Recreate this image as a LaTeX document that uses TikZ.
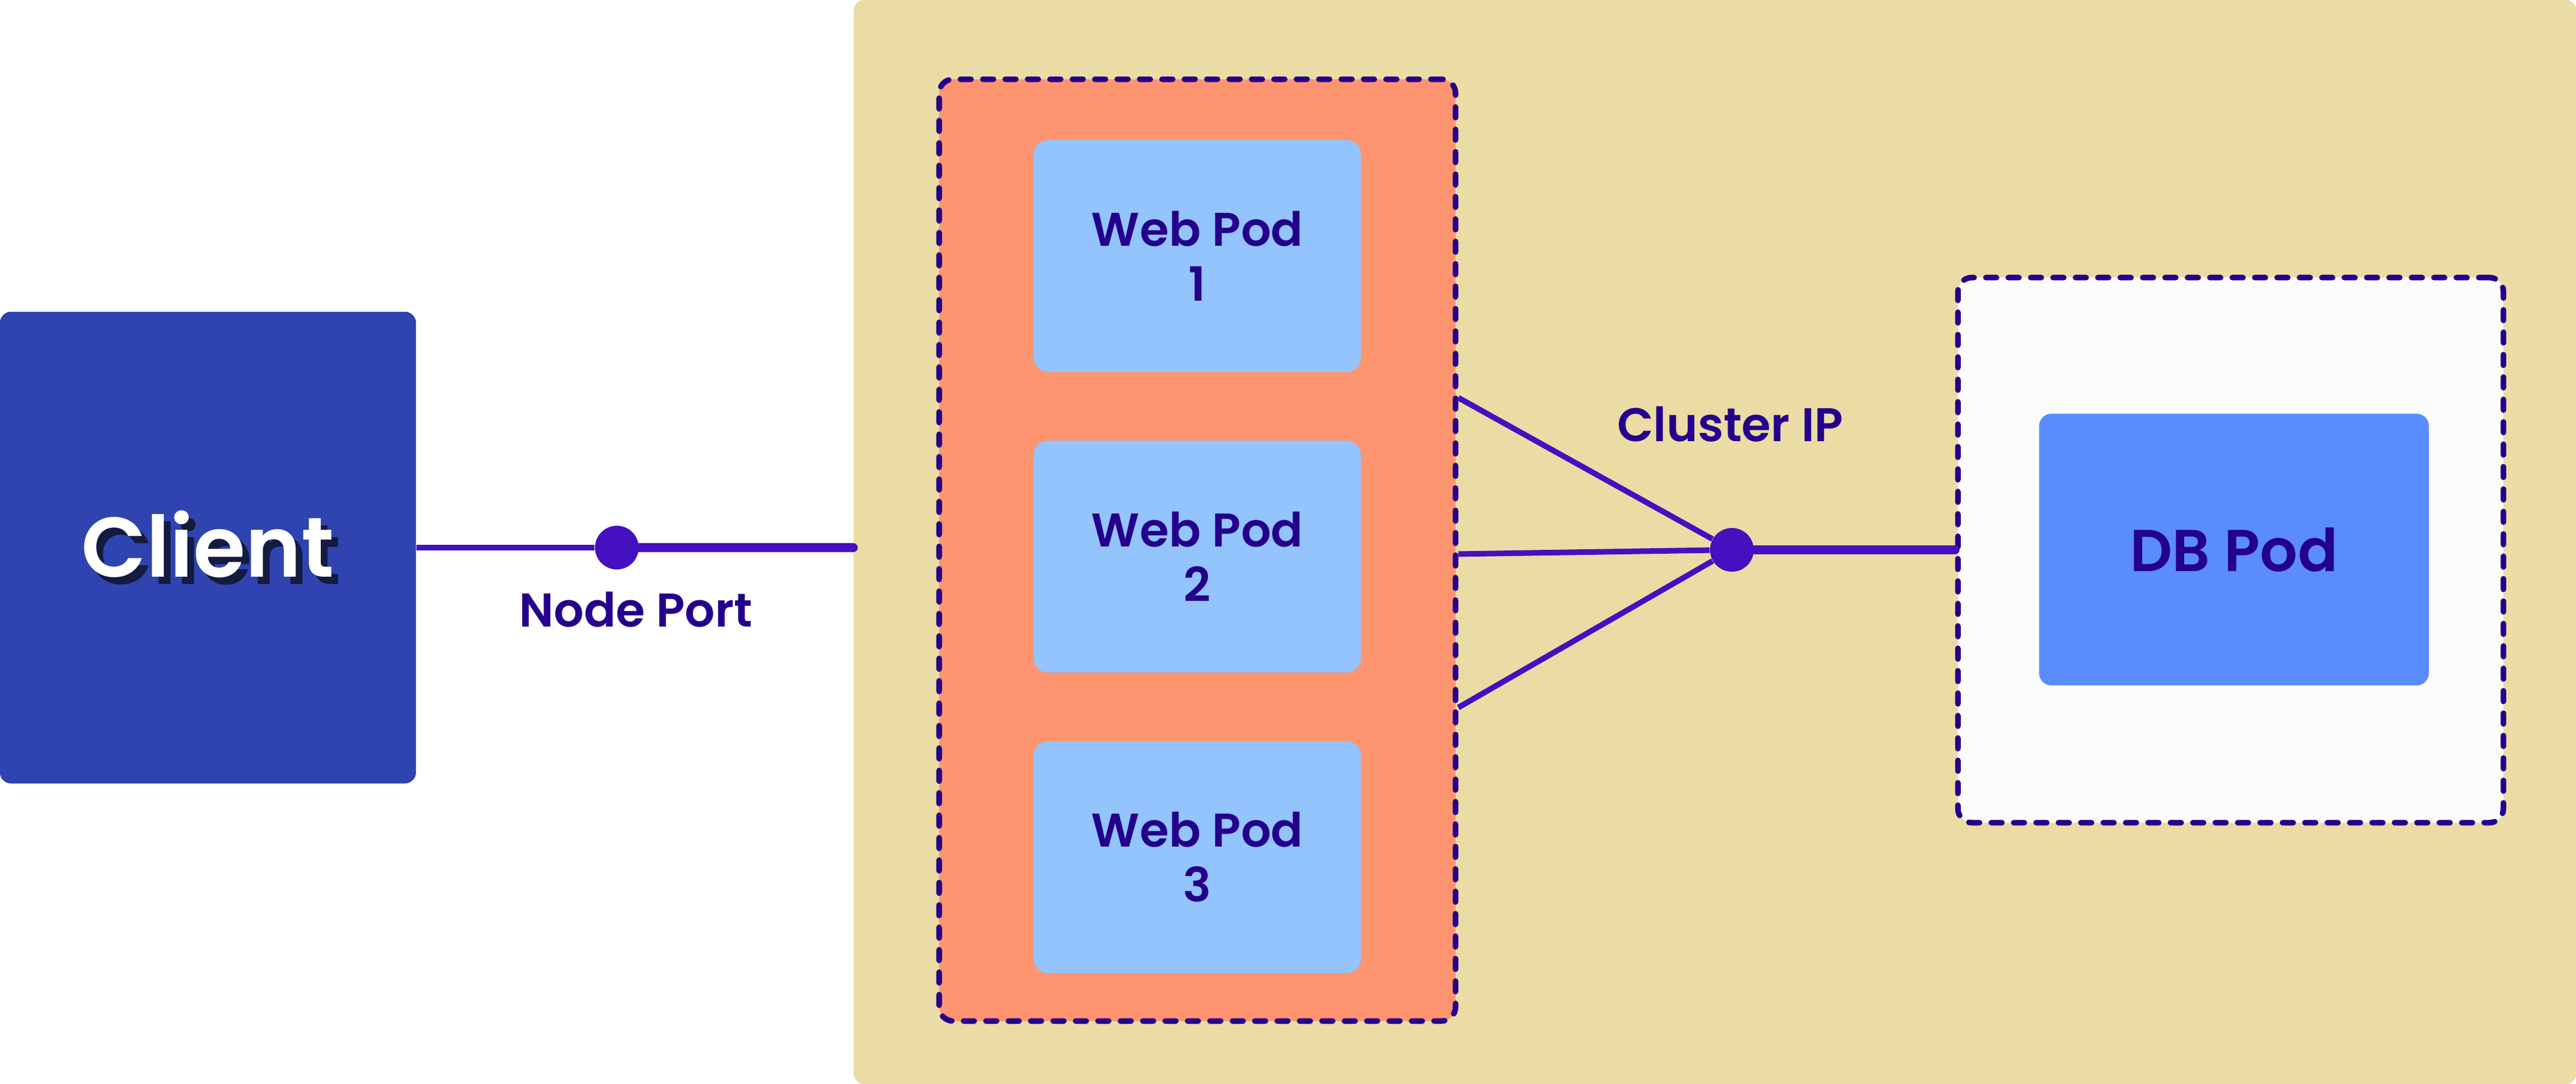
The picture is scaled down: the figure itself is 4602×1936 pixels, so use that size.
\documentclass[tikz,border=0pt]{standalone}
\usepackage{fontspec}
\setmainfont{Poppins}[BoldFont={* SemiBold}]
\usetikzlibrary{positioning}

\definecolor{sand}{HTML}{EADCA4}
\definecolor{clientblue}{HTML}{2F44B0}
\definecolor{shadowink}{HTML}{141A40}
\definecolor{coral}{HTML}{FF9470}
\definecolor{skyblue}{HTML}{93C4FD}
\definecolor{dbblue}{HTML}{5A8CFF}
\definecolor{offwhite}{HTML}{FCFCFC}
\definecolor{ink}{HTML}{25008C}
\definecolor{linkviolet}{HTML}{4410C0}

% text with a dark drop shadow
\newcommand{\shadowed}[1]{\rlap{\hspace{0.12cm}\raisebox{-0.13cm}{\color{shadowink}#1}}#1}

\begin{document}
\begin{tikzpicture}[x=0.01cm, y=-0.01cm,
        cluster/.style={rectangle, rounded corners=0.2cm, fill=sand, minimum width=30.76cm, minimum height=19.36cm, inner sep=0},
        client/.style={rectangle, rounded corners=0.2cm, fill=clientblue, minimum width=7.43cm, minimum height=8.42cm, text=white, font=\fontsize{43}{50}\selectfont\bfseries},
        % Style cho các khung nét đứt
        group/.style={rectangle, rounded corners=0.25cm, draw=ink, line width=0.1cm, dash pattern=on 0.19cm off 0.21cm, line cap=round},
        webgroup/.style={group, fill=coral, minimum width=9.22cm, minimum height=16.81cm},
        dbgroup/.style={group, fill=offwhite, minimum width=9.74cm, minimum height=9.73cm},
        webpod/.style={rectangle, rounded corners=0.25cm, fill=skyblue, minimum width=5.84cm, minimum height=4.14cm, text=ink, align=center, font=\fontsize{24}{28}\selectfont\bfseries},
        dbpod/.style={rectangle, rounded corners=0.22cm, fill=dbblue, minimum width=6.96cm, minimum height=4.85cm, text=ink, font=\fontsize{30}{36}\selectfont\bfseries},
        port/.style={circle, fill=linkviolet, minimum size=0.78cm, inner sep=0},
        tag/.style={text=ink, anchor=base, font=\fontsize{24}{28}\selectfont\bfseries},
        link/.style={draw=linkviolet, line width=0.1cm},
        trunk/.style={draw=linkviolet, line width=0.16cm, line cap=round}
    ]
        \useasboundingbox (0,0) rectangle (4602,1936);

        % Vùng cluster
        \node (cluster) [cluster] at (3064,968) {};

        % Client
        \node (client) [client] at (371.5,978) {\shadowed{Client}};

        % Nhóm Web Pod
        \node (web) [webgroup] at (2139,982.5) {};
        \node (pod2) [webpod] at (2139,994) {Web Pod\\2};
        \node (pod1) [webpod, above=1.21cm of pod2] {Web Pod\\1};
        \node (pod3) [webpod, below=1.21cm of pod2] {Web Pod\\3};

        % Nhóm DB Pod
        \node (db) [dbgroup] at (3985,982.5) {};
        \node (dbpod) [dbpod] at (3991,981.5) {DB Pod};

        % Các cổng
        \node (np) [port] at (1102,978) {};
        \node (nptag) [tag] at (1136,1119) {Node Port};
        \node (cip) [port] at (3094,982) {};
        \node (ciptag) [tag] at (3091,788) {Cluster IP};

        % Kết nối
        \draw [link] (client.east) -- (np);
        \draw [trunk] (np) -- (np -| cluster.west);
        \draw [link] ([yshift=2.72cm]web.east) -- (cip);
        \draw [link] ([yshift=-0.07cm]web.east) -- (cip);
        \draw [link] ([yshift=-2.81cm]web.east) -- (cip);
        \draw [trunk] (cip) -- (cip -| db.west);

    \end{tikzpicture}
\end{document}
